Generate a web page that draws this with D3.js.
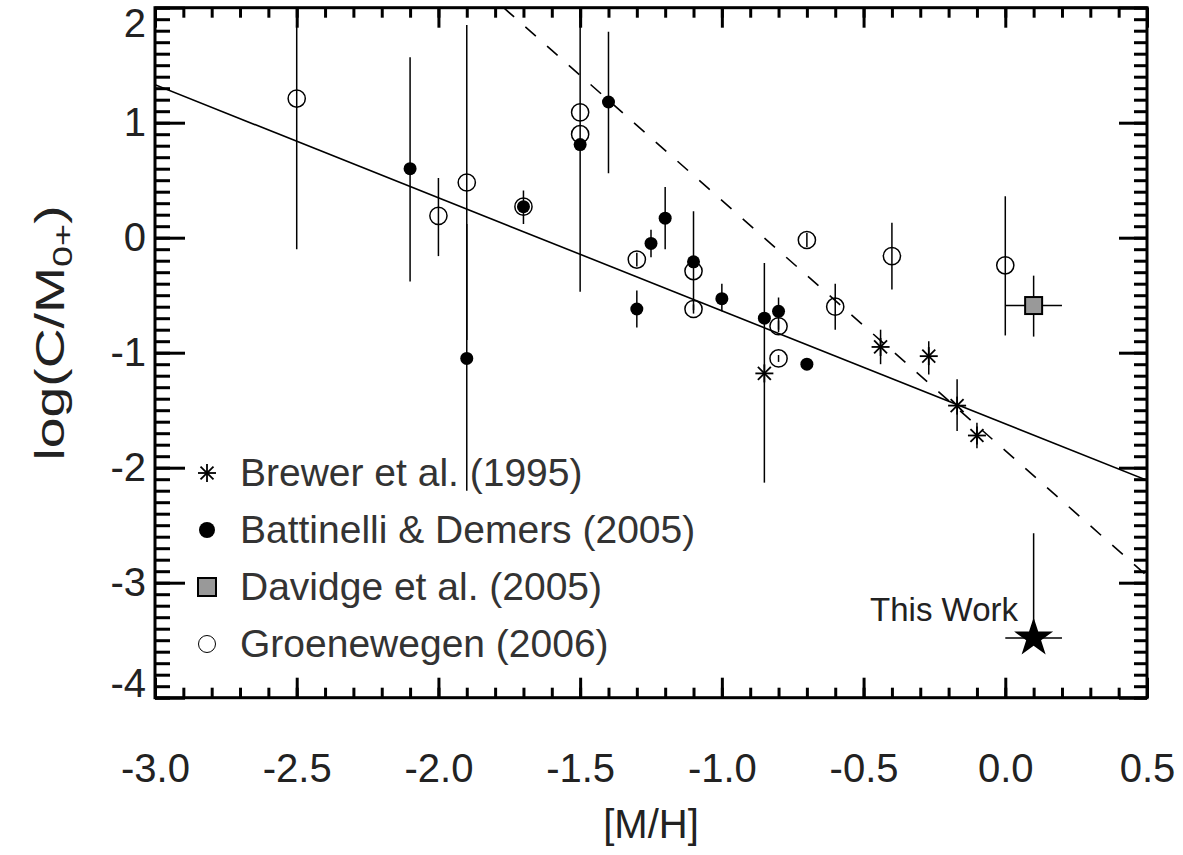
<!DOCTYPE html>
<html>
<head>
<meta charset="utf-8">
<script src="https://cdn.jsdelivr.net/npm/d3@7"></script>
<style>
  body { margin: 0; background: #fff; }
  text { font-family: "Liberation Sans", Arial, Helvetica, sans-serif; }
</style>
</head>
<body>
<script>
// ---- data ----
var xTicks = [-3.0, -2.5, -2.0, -1.5, -1.0, -0.5, 0.0, 0.5];
var xTickLabels = ["-3.0", "-2.5", "-2.0", "-1.5", "-1.0", "-0.5", "0.0", "0.5"];
var yTicks = [-4, -3, -2, -1, 0, 1, 2];
var yTickLabels = ["-4", "-3", "-2", "-1", "0", "1", "2"];

// Brewer et al. (1995)
var brewerX  = [-0.85, -0.44, -0.27, -0.17, -0.10];
var brewerY  = [-1.18, -0.95, -1.03, -1.46, -1.72];
var brewerLo = [-2.13, -1.10, -1.19, -1.68, -1.83];
var brewerHi = [-0.22, -0.80, -0.90, -1.23, -1.61];

// Battinelli & Demers (2005)
var bdX  = [-2.1, -1.9, -1.7, -1.5, -1.4, -1.3, -1.25, -1.2, -1.1, -1.0, -0.85, -0.8, -0.7];
var bdY  = [0.60, -1.05, 0.27, 0.81, 1.18, -0.62, -0.05, 0.17, -0.21, -0.53, -0.70, -0.64, -1.10];
var bdLo = [-0.38, -2.20, 0.12, -0.47, 0.56, -0.78, -0.17, -0.10, -0.63, -0.64, -0.70, -0.80, -1.10];
var bdHi = [1.57, 0.12, 0.41, 2.09, 1.79, -0.46, 0.07, 0.44, 0.23, -0.40, -0.70, -0.52, -1.10];

// Davidge et al. (2005)
var davX = [0.10], davY = [-0.59];
var davLo = [-0.86], davHi = [-0.33], davXLo = [0.0], davXHi = [0.2];

// Groenewegen (2006)
var grX  = [-2.5, -2.0, -1.9, -1.7, -1.5, -1.5, -1.3, -1.1, -1.1, -0.8, -0.8, -0.7, -0.6, -0.4, 0.0];
var grY  = [1.21, 0.19, 0.48, 0.27, 1.09, 0.90, -0.19, -0.29, -0.62, -0.77, -1.05, -0.02, -0.60, -0.16, -0.24];
var grLo = [-0.10, -0.16, -0.89, 0.27, 1.09, 0.90, -0.25, -0.29, -0.66, -0.82, -1.08, -0.08, -0.80, -0.45, -0.85];
var grHi = [1.85, 0.52, 1.85, 0.27, 1.09, 0.90, -0.13, -0.29, -0.58, -0.72, -1.02, 0.04, -0.40, 0.13, 0.36];

// This work
var twX = [0.10], twY = [-3.48], twHi = [-2.57], twXLo = [0.0], twXHi = [0.2];

// fitted relations (end points at frame)
var solidX = [-3.0, 0.5], solidY = [1.33, -2.11];
var dashX = [-1.77, 0.5], dashY = [2.0, -2.94];

var legendLabels = ["Brewer et al. (1995)", "Battinelli & Demers (2005)", "Davidge et al. (2005)", "Groenewegen (2006)"];

// ---- layout ----
var svg = d3.select("body").append("svg").attr("width", 1183).attr("height", 855);
var pL = 155, pR = 1147, pT = 7.7, pB = 697.7;

var x = d3.scaleLinear().domain([-3, 0.5]).range([pL, pR]);
var y = d3.scaleLinear().domain([-4, 2]).range([pB, pT]);

var xMinor = d3.range(-30, 6).map(function(i) { return i / 10; });
var yMinor = d3.range(-40, 21).map(function(i) { return i / 10; });

function ticks(axis, tr, vals, len) {
  var g = svg.append("g").attr("transform", tr)
    .call(axis.tickValues(vals).tickSize(-len).tickFormat(""));
  g.select(".domain").remove();
  g.selectAll("line").attr("stroke", "#000").attr("stroke-width", 3);
}
ticks(d3.axisBottom(x), "translate(0," + pB + ")", xMinor, 10);
ticks(d3.axisBottom(x), "translate(0," + pB + ")", xTicks, 20);
ticks(d3.axisTop(x), "translate(0," + pT + ")", xMinor, 10);
ticks(d3.axisTop(x), "translate(0," + pT + ")", xTicks, 20);
ticks(d3.axisLeft(y), "translate(" + pL + ",0)", yMinor, 15);
ticks(d3.axisLeft(y), "translate(" + pL + ",0)", yTicks, 30);
ticks(d3.axisRight(y), "translate(" + pR + ",0)", yMinor, 13);
ticks(d3.axisRight(y), "translate(" + pR + ",0)", yTicks, 28);

// tick labels
var gx = svg.append("g").attr("transform", "translate(0," + pB + ")")
  .call(d3.axisBottom(x).tickValues(xTicks).tickSize(0).tickPadding(56)
    .tickFormat(function(d, i) { return xTickLabels[i]; }));
gx.select(".domain").remove();
gx.selectAll("text").attr("font-size", 40).attr("fill", "#222")
  .style("font-family", '"Liberation Sans", Arial, sans-serif');

var gy = svg.append("g").attr("transform", "translate(" + pL + ",0)")
  .call(d3.axisLeft(y).tickValues(yTicks).tickSize(0).tickPadding(9)
    .tickFormat(function(d, i) { return yTickLabels[i]; }));
gy.select(".domain").remove();
gy.selectAll("text").attr("font-size", 40).attr("fill", "#222")
  .style("font-family", '"Liberation Sans", Arial, sans-serif')
  .attr("y", function(d) {
    var p = y(d);
    return Math.min(Math.max(p, pT + 16), pB - 14) - p;
  });

// frame
svg.append("rect").attr("x", pL).attr("y", pT)
  .attr("width", pR - pL).attr("height", pB - pT)
  .attr("fill", "none").attr("stroke", "#000").attr("stroke-width", 3);

// axis titles
svg.append("text").attr("x", (pL + pR) / 2).attr("y", 838)
  .attr("text-anchor", "middle").attr("font-size", 40).attr("fill", "#222")
  .text("[M/H]");

var yt = svg.append("text")
  .attr("transform", "translate(64,333) rotate(-90) scale(1.35,1)")
  .attr("text-anchor", "middle").attr("font-size", 41).attr("fill", "#222");
yt.append("tspan").text("log(C/M");
yt.append("tspan").attr("font-size", 28).attr("dy", 8).text("0+");
yt.append("tspan").attr("dy", -8).text(")");

// plot contents, clipped to frame
svg.append("clipPath").attr("id", "clip").append("rect")
  .attr("x", pL).attr("y", pT).attr("width", pR - pL).attr("height", pB - pT);
var plot = svg.append("g").attr("clip-path", "url(#clip)");

var line = d3.line().x(function(d) { return x(d[0]); }).y(function(d) { return y(d[1]); });
plot.append("path").attr("d", line(d3.zip(solidX, solidY)))
  .attr("fill", "none").attr("stroke", "#000").attr("stroke-width", 1.6);
plot.append("path").attr("d", line(d3.zip(dashX, dashY)))
  .attr("fill", "none").attr("stroke", "#000").attr("stroke-width", 1.6)
  .attr("stroke-dasharray", "14,15");

function vbars(xs, lo, hi) {
  plot.append("g").selectAll("line").data(xs).join("line")
    .attr("x1", function(d) { return x(d); }).attr("x2", function(d) { return x(d); })
    .attr("y1", function(d, i) { return y(lo[i]); }).attr("y2", function(d, i) { return y(hi[i]); })
    .attr("stroke", "#000").attr("stroke-width", 1.5);
}
function hbars(ys, lo, hi) {
  plot.append("g").selectAll("line").data(ys).join("line")
    .attr("y1", function(d) { return y(d); }).attr("y2", function(d) { return y(d); })
    .attr("x1", function(d, i) { return x(lo[i]); }).attr("x2", function(d, i) { return x(hi[i]); })
    .attr("stroke", "#000").attr("stroke-width", 1.5);
}
vbars(grX, grLo, grHi);
vbars(bdX, bdLo, bdHi);
vbars(brewerX, brewerLo, brewerHi);
vbars(davX, davLo, davHi);
hbars(davY, davXLo, davXHi);
vbars(twX, twY, twHi);
hbars(twY, twXLo, twXHi);

// open circles
plot.append("g").selectAll("circle").data(grX).join("circle")
  .attr("cx", function(d) { return x(d); })
  .attr("cy", function(d, i) { return y(grY[i]); })
  .attr("r", 8.6).attr("fill", "none").attr("stroke", "#000").attr("stroke-width", 1.5);

// filled circles
plot.append("g").selectAll("circle").data(bdX).join("circle")
  .attr("cx", function(d) { return x(d); })
  .attr("cy", function(d, i) { return y(bdY[i]); })
  .attr("r", 6.5).attr("fill", "#000");

// asterisks
function asterisk(g, r) {
  [[-r, 0, r, 0], [0, -r, 0, r], [-r * 0.72, -r * 0.72, r * 0.72, r * 0.72], [-r * 0.72, r * 0.72, r * 0.72, -r * 0.72]]
    .forEach(function(s) {
      g.append("line").attr("x1", s[0]).attr("y1", s[1]).attr("x2", s[2]).attr("y2", s[3])
        .attr("stroke", "#000").attr("stroke-width", 1.8);
    });
}
plot.append("g").selectAll("g").data(brewerX).join("g")
  .attr("transform", function(d, i) { return "translate(" + x(d) + "," + y(brewerY[i]) + ")"; })
  .each(function() { asterisk(d3.select(this), 9); });

// Davidge square
plot.append("g").selectAll("rect").data(davX).join("rect")
  .attr("x", function(d) { return x(d) - 8.5; })
  .attr("y", function(d, i) { return y(davY[i]) - 8.5; })
  .attr("width", 17).attr("height", 17)
  .attr("fill", "#999").attr("stroke", "#000").attr("stroke-width", 2);

// this work star
plot.append("g").selectAll("path").data(twX).join("path")
  .attr("transform", function(d, i) { return "translate(" + x(d) + "," + y(twY[i]) + ")"; })
  .attr("d", d3.symbol(d3.symbolStar, 472)).attr("fill", "#000");

svg.append("text").attr("x", 1018).attr("y", 621).attr("text-anchor", "end")
  .attr("font-size", 33).attr("fill", "#222").text("This Work");

// legend
var leg = svg.append("g");
var rowY = [473, 530, 587, 644];
var symX = 207;
leg.selectAll("text").data(legendLabels).join("text")
  .attr("x", 240).attr("y", function(d, i) { return rowY[i] + 13; })
  .attr("font-size", 39).attr("fill", "#333").text(function(d) { return d; });

asterisk(leg.append("g").attr("transform", "translate(" + symX + "," + rowY[0] + ")"), 9);
leg.append("circle").attr("cx", symX).attr("cy", rowY[1]).attr("r", 8).attr("fill", "#000");
leg.append("rect").attr("x", symX - 9).attr("y", rowY[2] - 9).attr("width", 18).attr("height", 18)
  .attr("fill", "#999").attr("stroke", "#000").attr("stroke-width", 2);
leg.append("circle").attr("cx", symX).attr("cy", rowY[3]).attr("r", 8.5)
  .attr("fill", "none").attr("stroke", "#000").attr("stroke-width", 1);
</script>
</body>
</html>
